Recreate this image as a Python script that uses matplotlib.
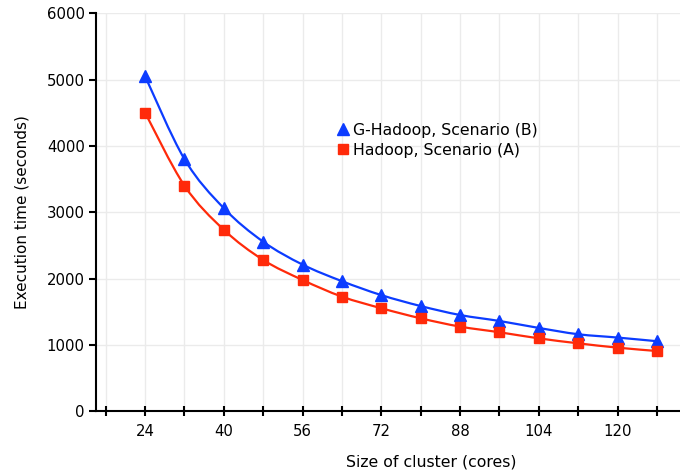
import numpy as np
import matplotlib
matplotlib.use('Agg')
import matplotlib.pyplot as plt
from matplotlib.path import Path
from matplotlib.patches import PathPatch
from matplotlib.lines import Line2D

cores = [24, 32, 40, 48, 56, 64, 72, 80, 88, 96, 104, 112, 120, 128]
g_hadoop = [5050, 3800, 3060, 2555, 2210, 1960, 1750, 1585, 1450, 1360, 1255, 1160, 1110, 1055]
hadoop = [4500, 3400, 2735, 2280, 1978, 1727, 1552, 1400, 1275, 1190, 1098, 1023, 958, 907]

x_ticks = [24, 40, 56, 72, 88, 104, 120]

blue = '#0c3cff'
red = '#ff2a0a'


def smooth_path(xs, ys):
    # catmull-rom segments drawn as cubic bezier curves
    xs = np.asarray(xs, float)
    ys = np.asarray(ys, float)
    n = len(xs)
    verts = [(xs[0], ys[0])]
    codes = [Path.MOVETO]
    for i in range(n - 1):
        i0 = max(i - 1, 0)
        i3 = min(i + 2, n - 1)
        c1 = (xs[i] + (xs[i + 1] - xs[i0]) / 6, ys[i] + (ys[i + 1] - ys[i0]) / 6)
        c2 = (xs[i + 1] - (xs[i3] - xs[i]) / 6, ys[i + 1] - (ys[i3] - ys[i]) / 6)
        verts += [c1, c2, (xs[i + 1], ys[i + 1])]
        codes += [Path.CURVE4] * 3
    return Path(verts, codes)


fig = plt.figure(figsize=(6.8, 4.71), dpi=100)
ax = fig.add_axes([0.141, 0.127, 0.859, 0.845])

ax.add_patch(PathPatch(smooth_path(cores, g_hadoop), fill=False, color=blue, lw=1.6, zorder=3))
ax.add_patch(PathPatch(smooth_path(cores, hadoop), fill=False, color=red, lw=1.6, zorder=3))
ax.plot(cores, g_hadoop, linestyle='none', marker='^', markersize=8.5, color=blue, zorder=4)
ax.plot(cores, hadoop, linestyle='none', marker='s', markersize=7, color=red, zorder=4)

ax.set_xlim(14, 132.7)
ax.set_ylim(0, 6000)
ax.set_xticks(x_ticks)
ax.set_xticks(np.arange(16, 132, 8), minor=True)
ax.set_yticks(range(0, 6001, 1000))

for s in ['top', 'right']:
    ax.spines[s].set_visible(False)
for s in ['left', 'bottom']:
    ax.spines[s].set_linewidth(1.5)

ax.grid(True, which='both', color='#ebebeb', lw=1)
ax.set_axisbelow(True)
ax.tick_params(axis='y', direction='out', length=5, width=1.5, labelsize=10.7, pad=3)
ax.tick_params(axis='x', which='both', direction='inout', length=7, width=1.5, labelsize=10.7, pad=6)

ax.set_xlabel('Size of cluster (cores)', fontsize=11.3)
ax.xaxis.set_label_coords(0.574, -0.108)
ax.set_ylabel('Execution time (seconds)', fontsize=11)
ax.yaxis.set_label_coords(-0.114, 0.5)

handles = [Line2D([], [], linestyle='none', marker='^', markersize=8, color=blue),
           Line2D([], [], linestyle='none', marker='s', markersize=6.5, color=red)]
ax.legend(handles, ['G-Hadoop, Scenario (B)', 'Hadoop, Scenario (A)'], frameon=False,
          fontsize=11.3, loc='upper left', bbox_to_anchor=(0.405, 0.74),
          handlelength=0.6, handletextpad=0.3, labelspacing=0.3, borderaxespad=0)

fig.savefig('out.png', dpi=100)
